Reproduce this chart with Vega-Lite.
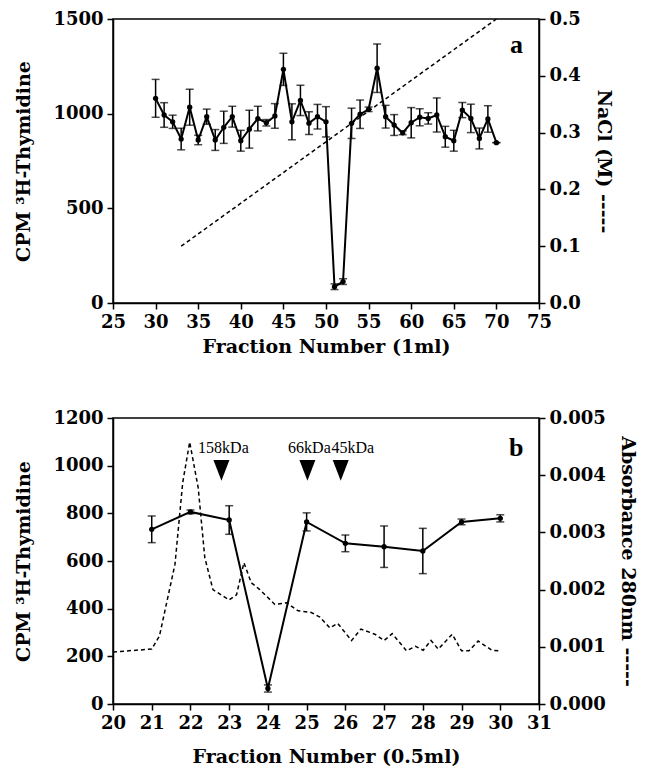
{
  "$schema": "https://vega.github.io/schema/vega-lite/v6.json",
  "padding": {"left": 14, "top": 9, "right": 5, "bottom": 5},
  "spacing": 51,
  "datasets": {
    "cpmA": [
      {"fraction": 30, "cpm": 1081, "err": 100}, {"fraction": 31, "cpm": 993, "err": 65}, {"fraction": 32, "cpm": 957, "err": 35},
      {"fraction": 33, "cpm": 866, "err": 57}, {"fraction": 34, "cpm": 1034, "err": 95}, {"fraction": 35, "cpm": 861, "err": 25},
      {"fraction": 36, "cpm": 984, "err": 40}, {"fraction": 37, "cpm": 861, "err": 55}, {"fraction": 38, "cpm": 928, "err": 85},
      {"fraction": 39, "cpm": 984, "err": 55}, {"fraction": 40, "cpm": 857, "err": 55}, {"fraction": 41, "cpm": 918, "err": 100},
      {"fraction": 42, "cpm": 974, "err": 65}, {"fraction": 43, "cpm": 952, "err": 17}, {"fraction": 44, "cpm": 988, "err": 65},
      {"fraction": 45, "cpm": 1234, "err": 85}, {"fraction": 46, "cpm": 957, "err": 95}, {"fraction": 47, "cpm": 1070, "err": 80},
      {"fraction": 48, "cpm": 950, "err": 60}, {"fraction": 49, "cpm": 984, "err": 65}, {"fraction": 50, "cpm": 957, "err": 80},
      {"fraction": 51, "cpm": 86, "err": 15}, {"fraction": 52, "cpm": 113, "err": 15}, {"fraction": 53, "cpm": 949, "err": 80},
      {"fraction": 54, "cpm": 997, "err": 75}, {"fraction": 55, "cpm": 1023, "err": 12}, {"fraction": 56, "cpm": 1240, "err": 128},
      {"fraction": 57, "cpm": 984, "err": 60}, {"fraction": 58, "cpm": 940, "err": 55}, {"fraction": 59, "cpm": 899, "err": 10},
      {"fraction": 60, "cpm": 952, "err": 80}, {"fraction": 61, "cpm": 981, "err": 45}, {"fraction": 62, "cpm": 975, "err": 30},
      {"fraction": 63, "cpm": 993, "err": 90}, {"fraction": 64, "cpm": 878, "err": 55}, {"fraction": 65, "cpm": 857, "err": 55},
      {"fraction": 66, "cpm": 1019, "err": 40}, {"fraction": 67, "cpm": 975, "err": 75}, {"fraction": 68, "cpm": 869, "err": 55},
      {"fraction": 69, "cpm": 972, "err": 70}, {"fraction": 70, "cpm": 847, "err": 0}
    ],
    "cpmB": [
      {"fraction": 21, "cpm": 733, "err": 56}, {"fraction": 22, "cpm": 806, "err": 8}, {"fraction": 23, "cpm": 772, "err": 60},
      {"fraction": 24, "cpm": 65, "err": 15}, {"fraction": 25, "cpm": 764, "err": 38}, {"fraction": 26, "cpm": 674, "err": 35},
      {"fraction": 27, "cpm": 660, "err": 87}, {"fraction": 28, "cpm": 642, "err": 95}, {"fraction": 29, "cpm": 764, "err": 12},
      {"fraction": 30, "cpm": 779, "err": 15}
    ],
    "markers": [{"marker": "158kDa", "fraction": 22.8}, {"marker": "66kDa", "fraction": 25.02}, {"marker": "45kDa", "fraction": 25.88}]
  },
  "config": {
    "font": "DejaVu Serif",
    "view": {"stroke": "black", "strokeWidth": 1.5},
    "axis": {"grid": false, "domainColor": "black", "domainWidth": 1.5, "tickColor": "black", "tickWidth": 1.5, "tickSize": 6,
      "labelFont": "DejaVu Serif", "labelFontSize": 18, "labelFontWeight": "bold", "labelColor": "black", "labelPadding": 4, "labelFlush": false,
      "titleFont": "DejaVu Serif", "titleFontSize": 19, "titleFontWeight": "bold", "titleColor": "black"},
    "axisX": {"titlePadding": 6},
    "axisY": {"titlePadding": 19}
  },
  "vconcat": [
    {
      "width": 426, "height": 284,
      "encoding": {"x": {"field": "fraction", "type": "quantitative", "scale": {"domain": [25, 75], "nice": false},
        "axis": {"values": [25, 30, 35, 40, 45, 50, 55, 60, 65, 70, 75], "title": "Fraction Number (1ml)"}}},
      "layer": [
        {"data": {"name": "cpmA"}, "mark": {"type": "errorbar", "ticks": {"size": 8}, "color": "black", "thickness": 1.5},
         "encoding": {
           "y": {"field": "cpm", "type": "quantitative", "scale": {"domain": [0, 1500], "nice": false},
            "axis": {"orient": "left", "values": [0, 500, 1000, 1500], "format": "d", "title": "CPM ³H-Thymidine"}}, "yError": {"field": "err"}}},
        {"data": {"name": "cpmA"}, "mark": {"type": "line", "color": "black", "strokeWidth": 2},
         "encoding": {"y": {"field": "cpm", "type": "quantitative", "scale": {"domain": [0, 1500], "nice": false}, "axis": null}}},
        {"data": {"name": "cpmA"}, "mark": {"type": "point", "filled": true, "color": "black", "size": 28, "opacity": 1},
         "encoding": {"y": {"field": "cpm", "type": "quantitative", "scale": {"domain": [0, 1500], "nice": false}, "axis": null}}},
        {"data": {"name": "cpmA"}, "transform": [{"filter": "datum.fraction === 70"}],
         "mark": {"type": "text", "font": "Liberation Serif", "fontWeight": "bold", "fontSize": 26, "baseline": "middle", "align": "center", "color": "black", "dx": 20},
         "encoding": {"y": {"datum": 1363, "type": "quantitative", "scale": {"domain": [0, 1500], "nice": false}, "axis": null}, "text": {"value": "a"}}},
        {
          "data": {"values": [{"fraction": 33, "nacl": 0.1}, {"fraction": 70, "nacl": 0.5}]},
          "mark": {"type": "line", "color": "black", "strokeDash": [4, 3], "strokeWidth": 1.5},
          "encoding": {"y": {"field": "nacl", "type": "quantitative", "scale": {"domain": [0, 0.5], "nice": false},
            "axis": {"orient": "right", "values": [0, 0.1, 0.2, 0.3, 0.4, 0.5], "format": ".1f", "title": "NaCl (M) -----", "titleAngle": 90, "titlePadding": 13}}}
        }
      ],
      "resolve": {"scale": {"y": "independent"}, "axis": {"y": "independent"}}
    },
    {
      "width": 426, "height": 286,
      "encoding": {"x": {"field": "fraction", "type": "quantitative", "scale": {"domain": [20, 31], "nice": false},
        "axis": {"values": [20, 21, 22, 23, 24, 25, 26, 27, 28, 29, 30, 31], "title": "Fraction Number (0.5ml)", "titlePadding": 15}}},
      "layer": [
        {"data": {"name": "cpmB"}, "mark": {"type": "errorbar", "ticks": {"size": 8}, "color": "black", "thickness": 1.5},
         "encoding": {
           "y": {"field": "cpm", "type": "quantitative", "scale": {"domain": [0, 1200], "nice": false},
            "axis": {"orient": "left", "values": [0, 200, 400, 600, 800, 1000, 1200], "format": "d", "title": "CPM ³H-Thymidine"}}, "yError": {"field": "err"}}},
        {"data": {"name": "cpmB"}, "mark": {"type": "line", "color": "black", "strokeWidth": 2},
         "encoding": {"y": {"field": "cpm", "type": "quantitative", "scale": {"domain": [0, 1200], "nice": false}, "axis": null}}},
        {"data": {"name": "cpmB"}, "mark": {"type": "point", "filled": true, "color": "black", "size": 28, "opacity": 1},
         "encoding": {"y": {"field": "cpm", "type": "quantitative", "scale": {"domain": [0, 1200], "nice": false}, "axis": null}}},
        {"data": {"name": "cpmB"}, "transform": [{"filter": "datum.fraction === 30"}],
         "mark": {"type": "text", "font": "Liberation Serif", "fontWeight": "bold", "fontSize": 26, "baseline": "middle", "align": "center", "color": "black", "dx": 16},
         "encoding": {"y": {"datum": 1074, "type": "quantitative", "scale": {"domain": [0, 1200], "nice": false}, "axis": null}, "text": {"value": "b"}}},
        {"data": {"name": "markers"},
         "mark": {"type": "point", "shape": "M-1,-1.3L1,-1.3L0,1.3Z", "filled": true, "color": "black", "size": 256, "opacity": 1},
         "encoding": {"y": {"datum": 980, "type": "quantitative", "scale": {"domain": [0, 1200], "nice": false}, "axis": null}}},
        {"data": {"name": "markers"}, "transform": [{"filter": "datum.marker !== '45kDa'"}],
         "mark": {"type": "text", "font": "Liberation Serif", "fontSize": 16, "baseline": "middle", "align": "center", "color": "black", "dx": 2},
         "encoding": {"y": {"datum": 1074, "type": "quantitative", "scale": {"domain": [0, 1200], "nice": false}, "axis": null}, "text": {"field": "marker", "type": "nominal"}}},
        {"data": {"name": "markers"}, "transform": [{"filter": "datum.marker === '45kDa'"}],
         "mark": {"type": "text", "font": "Liberation Serif", "fontSize": 16, "baseline": "middle", "align": "center", "color": "black", "dx": 12},
         "encoding": {"y": {"datum": 1074, "type": "quantitative", "scale": {"domain": [0, 1200], "nice": false}, "axis": null}, "text": {"field": "marker", "type": "nominal"}}},
        {
          "data": {"values": [
            {"fraction": 20.0, "abs": 0.00091}, {"fraction": 21.0, "abs": 0.00096}, {"fraction": 21.2, "abs": 0.00119},
            {"fraction": 21.6, "abs": 0.00244}, {"fraction": 21.8, "abs": 0.00387}, {"fraction": 21.98, "abs": 0.00458},
            {"fraction": 22.2, "abs": 0.00378}, {"fraction": 22.37, "abs": 0.00256}, {"fraction": 22.58, "abs": 0.002},
            {"fraction": 23.0, "abs": 0.00182}, {"fraction": 23.19, "abs": 0.00191}, {"fraction": 23.38, "abs": 0.00247},
            {"fraction": 23.57, "abs": 0.00212}, {"fraction": 23.79, "abs": 0.002}, {"fraction": 24.18, "abs": 0.00174},
            {"fraction": 24.48, "abs": 0.00177}, {"fraction": 24.78, "abs": 0.00163}, {"fraction": 25.12, "abs": 0.0016},
            {"fraction": 25.34, "abs": 0.00152}, {"fraction": 25.6, "abs": 0.00133}, {"fraction": 25.8, "abs": 0.00141},
            {"fraction": 26.16, "abs": 0.00111}, {"fraction": 26.4, "abs": 0.00131}, {"fraction": 26.76, "abs": 0.00122},
            {"fraction": 27.0, "abs": 0.00111}, {"fraction": 27.21, "abs": 0.00123}, {"fraction": 27.58, "abs": 0.00093},
            {"fraction": 27.81, "abs": 0.00101}, {"fraction": 28.01, "abs": 0.00094}, {"fraction": 28.21, "abs": 0.00111},
            {"fraction": 28.4, "abs": 0.00096}, {"fraction": 28.76, "abs": 0.00122}, {"fraction": 29.0, "abs": 0.00093},
            {"fraction": 29.19, "abs": 0.00093}, {"fraction": 29.43, "abs": 0.0011}, {"fraction": 29.78, "abs": 0.00094},
            {"fraction": 29.99, "abs": 0.00093}
          ]},
          "mark": {"type": "line", "color": "black", "strokeDash": [4, 3], "strokeWidth": 1.5},
          "encoding": {"y": {"field": "abs", "type": "quantitative", "scale": {"domain": [0, 0.005], "nice": false},
            "axis": {"orient": "right", "values": [0, 0.001, 0.002, 0.003, 0.004, 0.005], "format": ".3f", "title": "Absorbance 280nm -----", "titleAngle": 90, "titlePadding": 12}}}
        }
      ],
      "resolve": {"scale": {"y": "independent"}, "axis": {"y": "independent"}}
    }
  ]
}
